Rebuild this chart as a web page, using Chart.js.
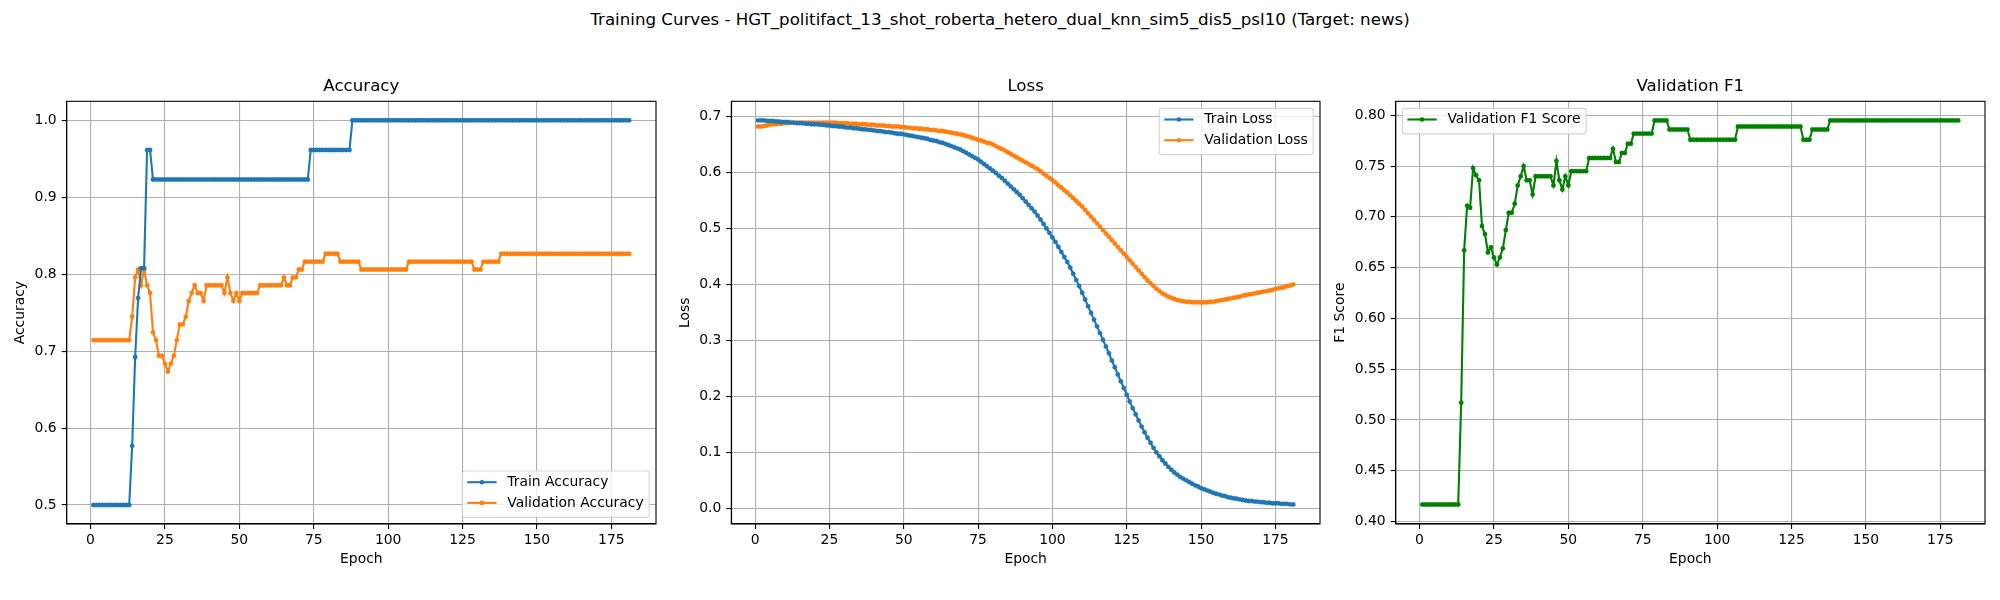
<!DOCTYPE html>
<html>
<head>
<meta charset="utf-8">
<title>Training Curves</title>
<script src="https://cdn.jsdelivr.net/npm/chart.js@4.4.1/dist/chart.umd.min.js"></script>
<style>
  html, body { margin: 0; padding: 0; background: #fff; }
  #page { position: relative; width: 2000px; height: 600px; overflow: hidden; background: #fff; }
  #suptitle { position: absolute; left: 0; top: 10px; width: 2000px; text-align: center;
    font-family: 'DejaVu Sans', sans-serif; font-size: 16.67px; line-height: 20px; color: #000; }
  canvas { position: absolute; top: 0; }
</style>
</head>
<body>
<div id="page">
  <div id="suptitle">Training Curves - HGT_politifact_13_shot_roberta_hetero_dual_knn_sim5_dis5_psl10 (Target: news)</div>
  <canvas id="acc" width="665" height="600" style="left:0px"></canvas>
  <canvas id="loss" width="660" height="600" style="left:665px"></canvas>
  <canvas id="f1" width="675" height="600" style="left:1325px"></canvas>
</div>
<script>
'use strict';

// values, one per epoch (epochs 1..181)
var trainAcc = [
  0.5, 0.5, 0.5, 0.5, 0.5, 0.5, 0.5, 0.5, 0.5, 0.5,
  0.5, 0.5, 0.5, 0.5769, 0.6923, 0.7692, 0.8077, 0.8077, 0.9615, 0.9615,
  0.9231, 0.9231, 0.9231, 0.9231, 0.9231, 0.9231, 0.9231, 0.9231, 0.9231, 0.9231,
  0.9231, 0.9231, 0.9231, 0.9231, 0.9231, 0.9231, 0.9231, 0.9231, 0.9231, 0.9231,
  0.9231, 0.9231, 0.9231, 0.9231, 0.9231, 0.9231, 0.9231, 0.9231, 0.9231, 0.9231,
  0.9231, 0.9231, 0.9231, 0.9231, 0.9231, 0.9231, 0.9231, 0.9231, 0.9231, 0.9231,
  0.9231, 0.9231, 0.9231, 0.9231, 0.9231, 0.9231, 0.9231, 0.9231, 0.9231, 0.9231,
  0.9231, 0.9231, 0.9231, 0.9615, 0.9615, 0.9615, 0.9615, 0.9615, 0.9615, 0.9615,
  0.9615, 0.9615, 0.9615, 0.9615, 0.9615, 0.9615, 0.9615, 1.0, 1.0, 1.0,
  1.0, 1.0, 1.0, 1.0, 1.0, 1.0, 1.0, 1.0, 1.0, 1.0,
  1.0, 1.0, 1.0, 1.0, 1.0, 1.0, 1.0, 1.0, 1.0, 1.0,
  1.0, 1.0, 1.0, 1.0, 1.0, 1.0, 1.0, 1.0, 1.0, 1.0,
  1.0, 1.0, 1.0, 1.0, 1.0, 1.0, 1.0, 1.0, 1.0, 1.0,
  1.0, 1.0, 1.0, 1.0, 1.0, 1.0, 1.0, 1.0, 1.0, 1.0,
  1.0, 1.0, 1.0, 1.0, 1.0, 1.0, 1.0, 1.0, 1.0, 1.0,
  1.0, 1.0, 1.0, 1.0, 1.0, 1.0, 1.0, 1.0, 1.0, 1.0,
  1.0, 1.0, 1.0, 1.0, 1.0, 1.0, 1.0, 1.0, 1.0, 1.0,
  1.0, 1.0, 1.0, 1.0, 1.0, 1.0, 1.0, 1.0, 1.0, 1.0,
  1.0
];

var valAcc = [
  0.7143, 0.7143, 0.7143, 0.7143, 0.7143, 0.7143, 0.7143, 0.7143, 0.7143, 0.7143,
  0.7143, 0.7143, 0.7143, 0.7449, 0.7959, 0.8061, 0.7857, 0.8061, 0.7857, 0.7755,
  0.7245, 0.7143, 0.6939, 0.6939, 0.6837, 0.6735, 0.6837, 0.6939, 0.7143, 0.7347,
  0.7347, 0.7449, 0.7653, 0.7755, 0.7857, 0.7755, 0.7755, 0.7653, 0.7857, 0.7857,
  0.7857, 0.7857, 0.7857, 0.7857, 0.7755, 0.7959, 0.7755, 0.7653, 0.7755, 0.7653,
  0.7755, 0.7755, 0.7755, 0.7755, 0.7755, 0.7755, 0.7857, 0.7857, 0.7857, 0.7857,
  0.7857, 0.7857, 0.7857, 0.7857, 0.7959, 0.7857, 0.7857, 0.7959, 0.7959, 0.8061,
  0.8061, 0.8163, 0.8163, 0.8163, 0.8163, 0.8163, 0.8163, 0.8163, 0.8265, 0.8265,
  0.8265, 0.8265, 0.8265, 0.8163, 0.8163, 0.8163, 0.8163, 0.8163, 0.8163, 0.8163,
  0.8061, 0.8061, 0.8061, 0.8061, 0.8061, 0.8061, 0.8061, 0.8061, 0.8061, 0.8061,
  0.8061, 0.8061, 0.8061, 0.8061, 0.8061, 0.8061, 0.8163, 0.8163, 0.8163, 0.8163,
  0.8163, 0.8163, 0.8163, 0.8163, 0.8163, 0.8163, 0.8163, 0.8163, 0.8163, 0.8163,
  0.8163, 0.8163, 0.8163, 0.8163, 0.8163, 0.8163, 0.8163, 0.8163, 0.8061, 0.8061,
  0.8061, 0.8163, 0.8163, 0.8163, 0.8163, 0.8163, 0.8163, 0.8265, 0.8265, 0.8265,
  0.8265, 0.8265, 0.8265, 0.8265, 0.8265, 0.8265, 0.8265, 0.8265, 0.8265, 0.8265,
  0.8265, 0.8265, 0.8265, 0.8265, 0.8265, 0.8265, 0.8265, 0.8265, 0.8265, 0.8265,
  0.8265, 0.8265, 0.8265, 0.8265, 0.8265, 0.8265, 0.8265, 0.8265, 0.8265, 0.8265,
  0.8265, 0.8265, 0.8265, 0.8265, 0.8265, 0.8265, 0.8265, 0.8265, 0.8265, 0.8265,
  0.8265
];

var trainLoss = [
  0.693, 0.693, 0.693, 0.692, 0.692, 0.692, 0.691, 0.691, 0.690, 0.690,
  0.690, 0.689, 0.689, 0.688, 0.688, 0.688, 0.687, 0.687, 0.686, 0.686,
  0.686, 0.685, 0.685, 0.684, 0.684, 0.683, 0.683, 0.682, 0.682, 0.681,
  0.680, 0.680, 0.679, 0.679, 0.678, 0.677, 0.677, 0.676, 0.676, 0.675,
  0.674, 0.674, 0.673, 0.672, 0.672, 0.671, 0.670, 0.669, 0.669, 0.668,
  0.667, 0.666, 0.665, 0.664, 0.663, 0.662, 0.661, 0.660, 0.658, 0.657,
  0.656, 0.654, 0.653, 0.651, 0.649, 0.647, 0.645, 0.643, 0.641, 0.638,
  0.635, 0.632, 0.629, 0.626, 0.623, 0.619, 0.615, 0.611, 0.607, 0.603,
  0.599, 0.594, 0.590, 0.585, 0.580, 0.575, 0.570, 0.565, 0.560, 0.554,
  0.548, 0.542, 0.536, 0.530, 0.523, 0.516, 0.508, 0.500, 0.492, 0.484,
  0.476, 0.467, 0.458, 0.449, 0.440, 0.430, 0.419, 0.408, 0.397, 0.385,
  0.373, 0.361, 0.349, 0.337, 0.325, 0.313, 0.301, 0.289, 0.277, 0.264,
  0.252, 0.239, 0.227, 0.215, 0.203, 0.191, 0.179, 0.168, 0.157, 0.146,
  0.136, 0.126, 0.117, 0.108, 0.100, 0.093, 0.086, 0.080, 0.074, 0.069,
  0.064, 0.060, 0.056, 0.053, 0.050, 0.047, 0.044, 0.041, 0.039, 0.036,
  0.034, 0.032, 0.030, 0.028, 0.026, 0.025, 0.023, 0.022, 0.020, 0.019,
  0.018, 0.017, 0.016, 0.015, 0.014, 0.013, 0.013, 0.012, 0.012, 0.011,
  0.011, 0.010, 0.010, 0.009, 0.009, 0.009, 0.008, 0.008, 0.008, 0.007,
  0.007
];

var valLoss = [
  0.682, 0.682, 0.683, 0.684, 0.685, 0.686, 0.686, 0.687, 0.687, 0.688,
  0.688, 0.689, 0.689, 0.689, 0.689, 0.689, 0.689, 0.689, 0.689, 0.689,
  0.689, 0.689, 0.689, 0.689, 0.689, 0.689, 0.689, 0.688, 0.688, 0.688,
  0.688, 0.687, 0.687, 0.687, 0.686, 0.686, 0.686, 0.685, 0.685, 0.685,
  0.684, 0.684, 0.684, 0.683, 0.683, 0.682, 0.682, 0.682, 0.681, 0.681,
  0.680, 0.680, 0.679, 0.679, 0.678, 0.678, 0.677, 0.677, 0.676, 0.676,
  0.675, 0.674, 0.674, 0.673, 0.672, 0.671, 0.670, 0.669, 0.668, 0.667,
  0.665, 0.664, 0.662, 0.660, 0.658, 0.657, 0.655, 0.653, 0.652, 0.650,
  0.647, 0.644, 0.642, 0.639, 0.636, 0.633, 0.630, 0.627, 0.624, 0.621,
  0.618, 0.615, 0.612, 0.609, 0.606, 0.602, 0.598, 0.594, 0.590, 0.586,
  0.582, 0.577, 0.573, 0.568, 0.564, 0.559, 0.554, 0.549, 0.544, 0.539,
  0.533, 0.527, 0.521, 0.515, 0.509, 0.503, 0.497, 0.491, 0.485, 0.479,
  0.473, 0.467, 0.461, 0.455, 0.449, 0.443, 0.437, 0.431, 0.425, 0.419,
  0.413, 0.407, 0.402, 0.397, 0.392, 0.388, 0.384, 0.381, 0.378, 0.376,
  0.374, 0.372, 0.371, 0.370, 0.369, 0.369, 0.368, 0.368, 0.368, 0.368,
  0.368, 0.368, 0.369, 0.369, 0.370, 0.371, 0.372, 0.373, 0.374, 0.375,
  0.376, 0.377, 0.378, 0.380, 0.381, 0.382, 0.383, 0.384, 0.385, 0.386,
  0.387, 0.388, 0.389, 0.390, 0.392, 0.393, 0.394, 0.395, 0.397, 0.398,
  0.400
];

var valF1 = [
  0.4167, 0.4167, 0.4167, 0.4167, 0.4167, 0.4167, 0.4167, 0.4167, 0.4167, 0.4167,
  0.4167, 0.4167, 0.4167, 0.517, 0.667, 0.711, 0.709, 0.748, 0.741, 0.736,
  0.691, 0.683, 0.665, 0.670, 0.660, 0.653, 0.660, 0.669, 0.687, 0.704,
  0.704, 0.713, 0.731, 0.740, 0.750, 0.736, 0.736, 0.722, 0.740, 0.740,
  0.740, 0.740, 0.740, 0.740, 0.731, 0.755, 0.736, 0.727, 0.740, 0.731,
  0.745, 0.745, 0.745, 0.745, 0.745, 0.745, 0.758, 0.758, 0.758, 0.758,
  0.758, 0.758, 0.758, 0.758, 0.767, 0.754, 0.754, 0.763, 0.763, 0.772,
  0.772, 0.782, 0.782, 0.782, 0.782, 0.782, 0.782, 0.782, 0.795, 0.795,
  0.795, 0.795, 0.795, 0.786, 0.786, 0.786, 0.786, 0.786, 0.786, 0.786,
  0.776, 0.776, 0.776, 0.776, 0.776, 0.776, 0.776, 0.776, 0.776, 0.776,
  0.776, 0.776, 0.776, 0.776, 0.776, 0.776, 0.789, 0.789, 0.789, 0.789,
  0.789, 0.789, 0.789, 0.789, 0.789, 0.789, 0.789, 0.789, 0.789, 0.789,
  0.789, 0.789, 0.789, 0.789, 0.789, 0.789, 0.789, 0.789, 0.776, 0.776,
  0.776, 0.786, 0.786, 0.786, 0.786, 0.786, 0.786, 0.795, 0.795, 0.795,
  0.795, 0.795, 0.795, 0.795, 0.795, 0.795, 0.795, 0.795, 0.795, 0.795,
  0.795, 0.795, 0.795, 0.795, 0.795, 0.795, 0.795, 0.795, 0.795, 0.795,
  0.795, 0.795, 0.795, 0.795, 0.795, 0.795, 0.795, 0.795, 0.795, 0.795,
  0.795, 0.795, 0.795, 0.795, 0.795, 0.795, 0.795, 0.795, 0.795, 0.795,
  0.795
];

var epochTicks = [0, 25, 50, 75, 100, 125, 150, 175];
var accTicks = [0.5, 0.6, 0.7, 0.8, 0.9, 1.0];
var lossTicks = [0.0, 0.1, 0.2, 0.3, 0.4, 0.5, 0.6, 0.7];
var f1Ticks = [0.40, 0.45, 0.50, 0.55, 0.60, 0.65, 0.70, 0.75, 0.80];

var FONT = "'DejaVu Sans', sans-serif";
var SMALL = 13.9;
var LARGE = 16.67;

Chart.defaults.font.family = FONT;
Chart.defaults.color = '#000';

function toPoints(values) {
  var pts = [];
  for (var i = 0; i < values.length; i++) {
    pts.push({ x: i + 1, y: values[i] });
  }
  return pts;
}

// top and right spines, matplotlib draws a full box round the axes
var framePlugin = {
  id: 'frame',
  afterDatasetsDraw: function (chart) {
    var a = chart.chartArea;
    var ctx = chart.ctx;
    ctx.save();
    ctx.strokeStyle = '#000';
    ctx.lineWidth = 1.1;
    ctx.strokeRect(a.left, a.top, a.right - a.left, a.bottom - a.top);
    ctx.restore();
  }
};

// legend drawn inside the plot area like matplotlib's
var boxLegend = {
  id: 'boxLegend',
  afterDatasetsDraw: function (chart, args, opts) {
    var ctx = chart.ctx;
    var a = chart.chartArea;
    var sets = chart.data.datasets;
    ctx.save();
    ctx.font = SMALL + 'px ' + FONT;
    var textW = 0;
    sets.forEach(function (d) {
      textW = Math.max(textW, ctx.measureText(d.label).width);
    });
    var w = 5 + 29.3 + 10.7 + textW + 5.6;
    var h = 25.6 + (sets.length - 1) * 20.7;
    var left = opts.corner.indexOf('left') >= 0 ? a.left + 6.7 : a.right - 6.7 - w;
    var top = opts.corner.indexOf('upper') >= 0 ? a.top + 7 : a.bottom - 6.7 - h;
    var r = 2.8;

    ctx.beginPath();
    ctx.moveTo(left + r, top);
    ctx.arcTo(left + w, top, left + w, top + h, r);
    ctx.arcTo(left + w, top + h, left, top + h, r);
    ctx.arcTo(left, top + h, left, top, r);
    ctx.arcTo(left, top, left + w, top, r);
    ctx.closePath();
    ctx.fillStyle = 'rgba(255,255,255,0.8)';
    ctx.fill();
    ctx.strokeStyle = 'rgba(204,204,204,0.8)';
    ctx.lineWidth = 1.2;
    ctx.stroke();

    sets.forEach(function (d, i) {
      var cy = top + 11.2 + i * 20.7;
      var x0 = left + 5;
      var x1 = x0 + 29.3;
      ctx.strokeStyle = d.borderColor;
      ctx.lineWidth = 2.1;
      ctx.beginPath();
      ctx.moveTo(x0, cy);
      ctx.lineTo(x1, cy);
      ctx.stroke();
      ctx.fillStyle = d.borderColor;
      ctx.beginPath();
      ctx.arc((x0 + x1) / 2, cy, 2.3, 0, Math.PI * 2);
      ctx.fill();
      ctx.fillStyle = '#000';
      ctx.textAlign = 'left';
      ctx.textBaseline = 'middle';
      ctx.fillText(d.label, x1 + 10.7, cy);
    });
    ctx.restore();
  }
};

function makePanel(id, p) {
  var datasets = p.series.map(function (s) {
    return {
      label: s.label,
      data: toPoints(s.values),
      borderColor: s.color,
      backgroundColor: s.color,
      borderWidth: 2.1,
      pointRadius: 2.2,
      pointBorderWidth: 0.4,
      pointHoverRadius: 2.2,
      tension: 0
    };
  });

  new Chart(document.getElementById(id), {
    type: 'line',
    data: { datasets: datasets },
    options: {
      responsive: false,
      animation: false,
      devicePixelRatio: 1,
      events: [],
      layout: { padding: { left: p.padLeft, right: p.padRight, top: 0, bottom: 32.7 } },
      scales: {
        x: {
          type: 'linear',
          min: -8,
          max: 190,
          afterBuildTicks: function (s) {
            s.ticks = epochTicks.map(function (v) { return { value: v }; });
          },
          afterFit: function (s) { s.height = 43.3; },
          grid: { color: '#b0b0b0', lineWidth: 1.1, tickLength: 5, tickColor: '#000' },
          border: { color: '#000', width: 1.1 },
          ticks: { font: { size: SMALL }, color: '#000', padding: 3, maxRotation: 0,
            callback: function (v) { return String(v); } },
          title: { display: true, text: 'Epoch', font: { size: SMALL }, color: '#000', padding: 0 }
        },
        y: {
          type: 'linear',
          min: p.yMin,
          max: p.yMax,
          afterBuildTicks: function (s) {
            s.ticks = p.yTicks.map(function (v) { return { value: v }; });
          },
          afterFit: function (s) { s.width = p.yWidth; },
          grid: { color: '#b0b0b0', lineWidth: 1.1, tickLength: 5, tickColor: '#000' },
          border: { color: '#000', width: 1.1 },
          ticks: { font: { size: SMALL }, color: '#000', padding: 5,
            callback: function (v) { return Number(v).toFixed(p.decimals); } },
          title: { display: true, text: p.yTitle, font: { size: SMALL }, color: '#000', padding: 0 }
        }
      },
      plugins: {
        title: { display: true, text: p.title, fullSize: false, color: '#000',
          font: { size: LARGE, weight: 'normal' }, padding: { top: 77, bottom: 4.3 } },
        legend: { display: false },
        tooltip: { enabled: false },
        boxLegend: { corner: p.corner }
      }
    },
    plugins: [framePlugin, boxLegend]
  });
}

makePanel('acc', {
  title: 'Accuracy', yTitle: 'Accuracy',
  yMin: 0.4753, yMax: 1.0247, yTicks: accTicks, decimals: 1,
  padLeft: 12.36, yWidth: 54.34, padRight: 9, corner: 'lower right',
  series: [
    { label: 'Train Accuracy', values: trainAcc, color: '#1f77b4' },
    { label: 'Validation Accuracy', values: valAcc, color: '#ff7f0e' }
  ]
});

makePanel('loss', {
  title: 'Loss', yTitle: 'Loss',
  yMin: -0.028, yMax: 0.727, yTicks: lossTicks, decimals: 1,
  padLeft: 11.96, yWidth: 54.34, padRight: 5, corner: 'upper right',
  series: [
    { label: 'Train Loss', values: trainLoss, color: '#1f77b4' },
    { label: 'Validation Loss', values: valLoss, color: '#ff7f0e' }
  ]
});

makePanel('f1', {
  title: 'Validation F1', yTitle: 'F1 Score',
  yMin: 0.3975, yMax: 0.8138, yTicks: f1Ticks, decimals: 2,
  padLeft: 7.36, yWidth: 63.34, padRight: 15, corner: 'upper left',
  series: [
    { label: 'Validation F1 Score', values: valF1, color: '#008000' }
  ]
});
</script>
</body>
</html>
